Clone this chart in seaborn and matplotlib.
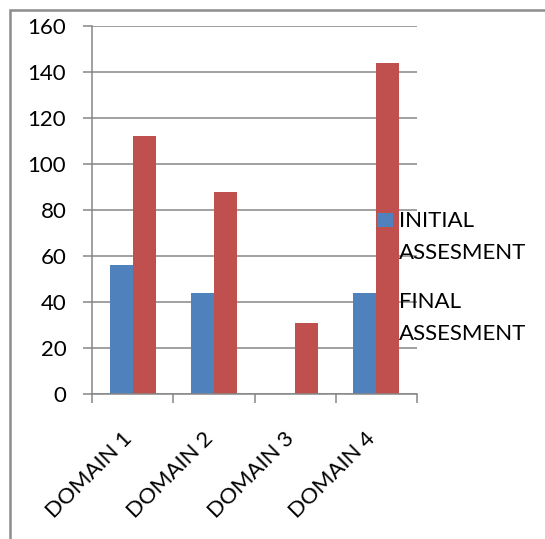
import matplotlib
matplotlib.use("Agg")
import matplotlib.pyplot as plt
import matplotlib.transforms as mtransforms
from matplotlib.patches import Rectangle
import seaborn as sns
import pandas as pd

categories = ["DOMAIN 1", "DOMAIN 2", "DOMAIN 3", "DOMAIN 4"]
initial_assessment = [56, 44, 0, 44]
final_assessment = [112, 88, 31, 144]
series_names = ["INITIAL\nASSESMENT", "FINAL\nASSESMENT"]
y_ticks = [0, 20, 40, 60, 80, 100, 120, 140, 160]
colors = ["#4F81BD", "#C0504D"]

df = pd.DataFrame({
    "category": categories * 2,
    "series": [series_names[0]] * 4 + [series_names[1]] * 4,
    "value": initial_assessment + final_assessment,
})

sns.set_theme(style="white")
plt.rcParams["font.family"] = ["Lato", "DejaVu Sans"]
FS = 16

W, H = 545, 539
fig = plt.figure(figsize=(W / 100, H / 100), dpi=100)
ax = fig.add_axes([92 / W, 1 - 394 / H, (417 - 92) / W, (394 - 26) / H])

sns.barplot(data=df, x="category", y="value", hue="series", order=categories,
            hue_order=series_names, palette=colors, width=0.568, gap=0,
            linewidth=0, saturation=1, ax=ax, legend=False, zorder=2)

ax.set_xlim(-0.5, 3.5)
ax.set_ylim(0, 160)
ax.set_yticks(y_ticks)
ax.set_yticklabels([str(t) for t in y_ticks], fontsize=FS, color="black")
ax.grid(axis="y", color="#868686", linewidth=1.1, zorder=0)
ax.set_axisbelow(True)
ax.tick_params(axis="y", length=6.5, width=1.1, color="#868686", pad=12, left=True)

# x axis: ticks at boundaries, labels at centres
ax.set_xticks([-0.5, 0.5, 1.5, 2.5, 3.5])
ax.set_xticklabels([])
ax.set_xticks(range(len(categories)), minor=True)
ax.set_xticklabels(categories, minor=True, rotation=45, ha="right", va="center",
                   rotation_mode="anchor", fontsize=FS, color="black")
ax.tick_params(axis="x", which="major", length=6.5, width=1.1, color="#868686", bottom=True)
ax.tick_params(axis="x", which="minor", length=0, pad=30)
off = mtransforms.ScaledTranslation(-4 / 100, 0, fig.dpi_scale_trans)
for lab in ax.get_xticklabels(minor=True):
    lab.set_transform(lab.get_transform() + off)

ax.set_xlabel("")
ax.set_ylabel("")
for s in ["top", "right"]:
    ax.spines[s].set_visible(False)
for s in ["left", "bottom"]:
    ax.spines[s].set_color("#868686")
    ax.spines[s].set_linewidth(1.1)

# legend (drawn over plot)
def fy(px):
    return 1 - px / H

leg_items = [(series_names[0], colors[0], 213, 227, [227, 259]),
             (series_names[1], colors[1], 293, 307, [308, 340])]
for name, col, top, bot, baselines in leg_items:
    fig.patches.append(Rectangle((377 / W, fy(bot)), 16 / W, (bot - top) / H,
                                 transform=fig.transFigure, facecolor=col,
                                 edgecolor="none", zorder=5))
    for line, bl in zip(name.split("\n"), baselines):
        fig.text(399 / W, fy(bl), line, fontsize=FS, color="black",
                 va="baseline", ha="left", zorder=6)

# chart-area border
fig.patches.append(Rectangle((10 / W, -0.1), 1.2, fy(10) + 0.1,
                             transform=fig.transFigure, facecolor="none",
                             edgecolor="#8C8C8C", linewidth=1.8, zorder=0))

fig.savefig("out.png", dpi=100)
